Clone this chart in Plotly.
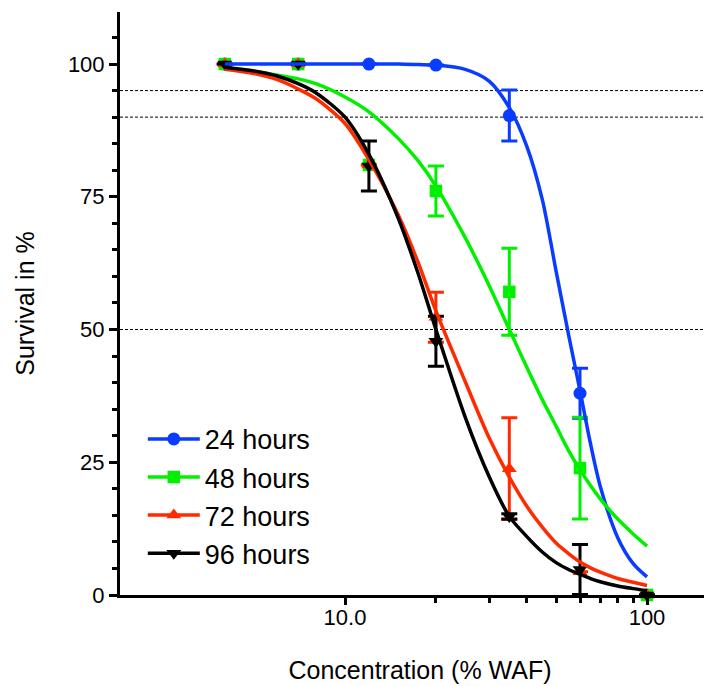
import plotly.graph_objects as go

# measured points (concentration in % WAF)
conc = [4, 7, 12, 20, 35, 60, 100]

surv_24 = [100, 100, 100, 99.8, 90.3, 38.0, 0]
err_24 = [0, 0, 0, 0, 4.8, 4.7, 0]
surv_48 = [100, 100, 81.0, 76.1, 57.1, 23.9, 0]
err_48 = [0, 0, 0, 4.7, 8.2, 9.6, 0]
surv_72 = [100, 100, 81.0, 52.3, 23.8, 4.4, 0]
err_72 = [0, 0, 0, 4.7, 9.6, 0, 0]
surv_96 = [100, 100, 80.8, 47.8, 14.8, 4.8, 0]
err_96 = [0, 0, 4.7, 4.7, 0.5, 4.7, 0]

# fitted curves
fit_x = [4, 5, 6, 7, 8, 10, 12, 15, 17.5, 20, 25, 30, 35, 40, 45, 50, 55, 60, 65, 70, 80, 90, 100]
fit_24 = [100, 100, 100, 100, 100, 100, 100, 100, 99.9, 99.8, 99.0, 96.8, 91.8, 84.5, 74.5,
          61.0, 49.0, 38.5, 28.5, 20.5, 10.8, 5.9, 3.4]
fit_48 = [99.1, 98.6, 97.9, 97.2, 96.3, 93.8, 91.0, 86.0, 81.7, 77.0, 67.3, 58.3, 50.0, 42.9,
          36.8, 31.8, 27.2, 23.6, 20.6, 18.1, 14.3, 11.5, 9.2]
fit_72 = [99.0, 98.2, 97.0, 95.3, 93.5, 88.8, 82.0, 71.6, 62.5, 53.5, 40.2, 29.6, 22.2, 16.7,
          12.8, 9.8, 7.8, 6.2, 5.1, 4.3, 3.1, 2.4, 1.8]
fit_96 = [99.4, 98.7, 97.7, 96.3, 94.6, 90.0, 83.0, 71.0, 60.4, 50.0, 33.5, 22.3, 14.8, 11.0,
          8.1, 6.1, 4.8, 3.9, 3.1, 2.5, 1.7, 1.2, 0.8]

series = [
    ("24 hours", surv_24, err_24, fit_24, "#0a3cff", "circle", 13),
    ("48 hours", surv_48, err_48, fit_48, "#00f000", "square", 12.5),
    ("72 hours", surv_72, err_72, fit_72, "#ff2a00", "triangle-up", 13),
    ("96 hours", surv_96, err_96, fit_96, "#000000", "triangle-down", 13),
]

ref_levels = [95, 90, 50]

FONT = "Liberation Sans, Arial, sans-serif"

fig = go.Figure()

for name, ys, errs, fit, color, symbol, msize in series:
    fig.add_trace(go.Scatter(
        x=conc, y=ys, mode="markers",
        marker=dict(color=color, size=msize, symbol=symbol),
        error_y=dict(type="data", array=errs, color=color, thickness=3, width=8),
        cliponaxis=False, showlegend=False,
    ))

for name, ys, errs, fit, color, symbol, msize in series:
    fig.add_trace(go.Scatter(
        x=fit_x, y=fit, mode="lines",
        line=dict(color=color, width=3.5, shape="spline", smoothing=0.8),
        showlegend=False,
    ))

# legend entries
for name, ys, errs, fit, color, symbol, msize in series:
    fig.add_trace(go.Scatter(
        x=[None], y=[None], mode="lines+markers", name=name, legendgroup=name,
        line=dict(color=color, width=3.5),
        marker=dict(color=color, size=msize, symbol=symbol),
    ))

for lvl in ref_levels:
    fig.add_shape(type="line", xref="paper", yref="y", x0=0, x1=1, y0=lvl, y1=lvl,
                  line=dict(color="black", width=1, dash="3px,2px"), layer="below")

fig.update_layout(
    width=712, height=686,
    margin=dict(l=112, r=0, t=4, b=99),
    paper_bgcolor="white", plot_bgcolor="white",
    font=dict(family=FONT, size=22, color="black"),
    legend=dict(
        x=0.038, y=0.309, xanchor="left", yanchor="top",
        font=dict(size=27), tracegroupgap=0, itemwidth=52,
        bgcolor="rgba(0,0,0,0)",
    ),
    xaxis=dict(
        type="log", range=[0.255, 2.2417], automargin=False,
        tickvals=[10, 100], ticktext=["10.0", "100"],
        ticks="outside", ticklen=7, tickwidth=3, tickcolor="black",
        ticklabelstandoff=-6,
        minor=dict(tickvals=[20, 30, 40, 50, 60, 70, 80, 90], ticks="outside",
                   ticklen=5, tickwidth=3, tickcolor="black"),
        showline=True, linewidth=3, linecolor="black",
        showgrid=False, zeroline=False,
        title=dict(text="Concentration (% WAF)", font=dict(size=25), standoff=33),
    ),
    yaxis=dict(
        range=[0, 109.8], tickvals=[0, 25, 50, 75, 100], automargin=False,
        ticks="outside", ticklen=8, tickwidth=3, tickcolor="black",
        minor=dict(dtick=5, ticks="outside", ticklen=5, tickwidth=3, tickcolor="black"),
        showline=True, linewidth=3, linecolor="black",
        showgrid=False, zeroline=False,
        title=dict(text="Survival in %", font=dict(size=25), standoff=27),
    ),
)

fig.write_html("out.html")
